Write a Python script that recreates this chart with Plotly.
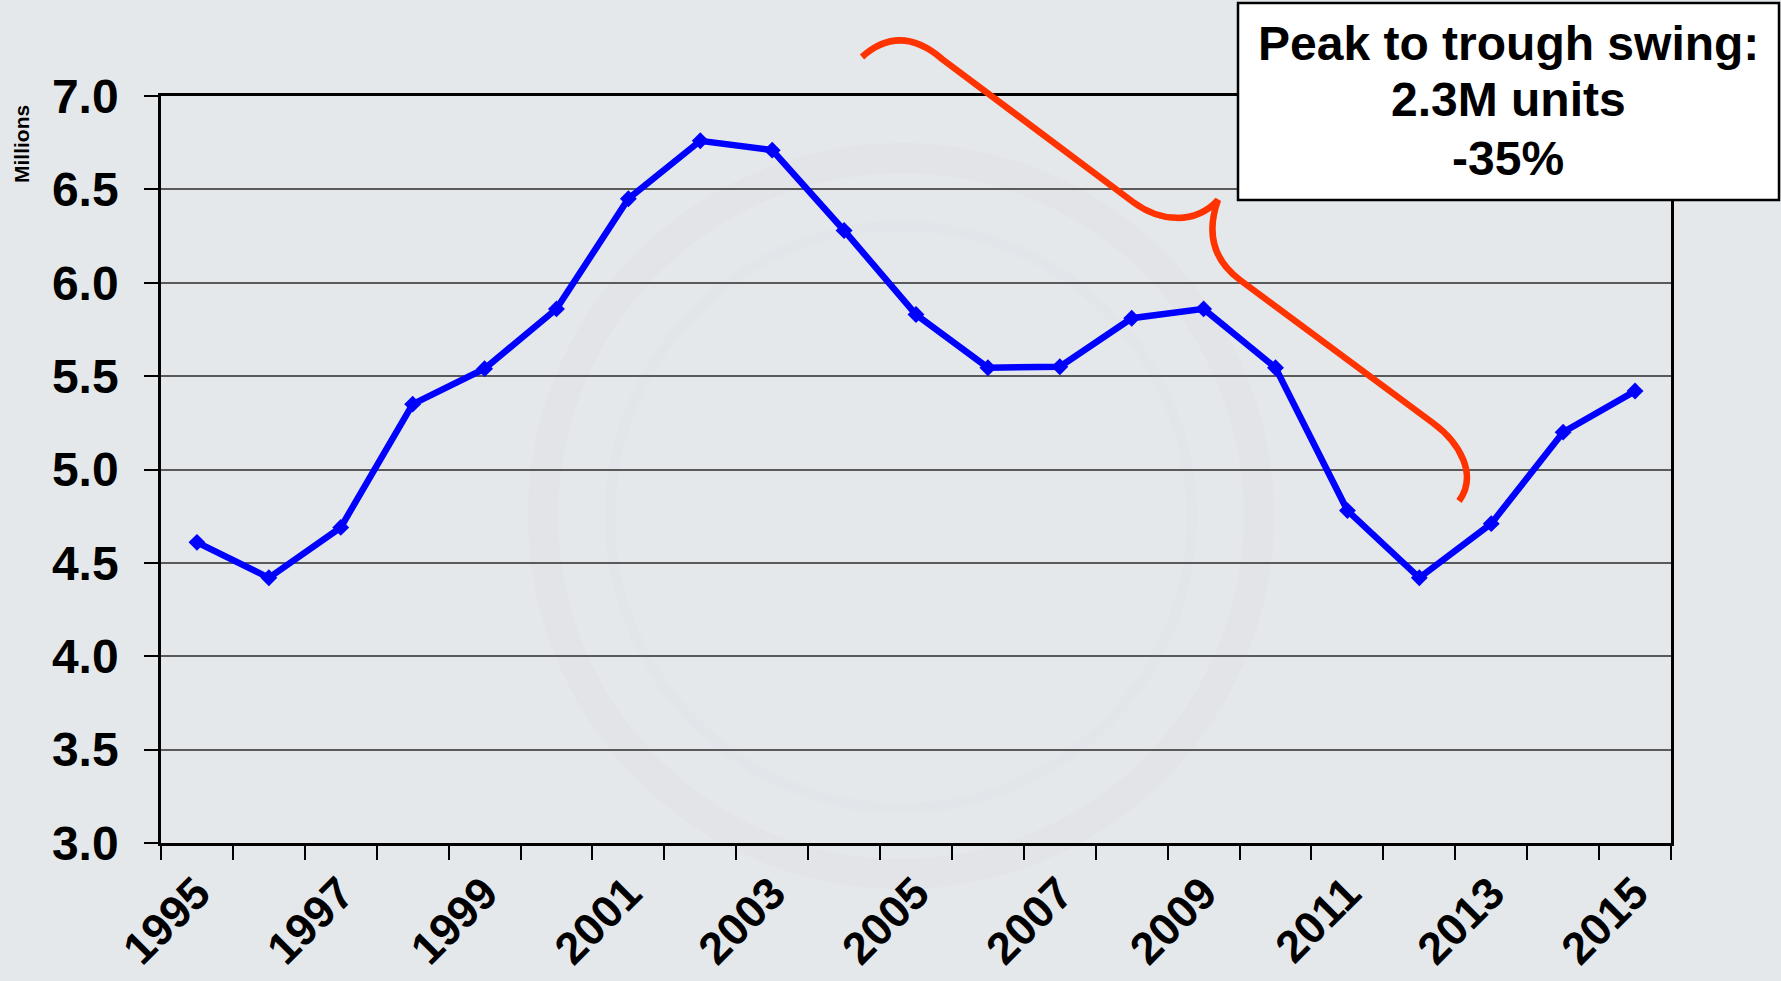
import plotly.graph_objects as go

# annual sales, millions of units
years = list(range(1995, 2016))
sales = [4.61, 4.42, 4.69, 5.35, 5.54, 5.86, 6.45, 6.76, 6.71, 6.28,
         5.83, 5.545, 5.55, 5.81, 5.86, 5.545, 4.78, 4.42, 4.71, 5.20, 5.42]
label_years = [y for y in years if y % 2 == 1]
label_text = [str(y) for y in label_years]
box_lines = ["Peak to trough swing:", "2.3M units", "-35%"]

W, H = 1781, 981
L, R, T, B = 161, 1671, 96, 843  # plot area in pixels


def px(x):
    return (x - L) / (R - L)


def py(y):
    return (B - y) / (B - T)


def path(cmds):
    out = []
    for c in cmds:
        if isinstance(c, str):
            out.append(c)
        else:
            out.append(f"{px(c[0]):.5f},{py(c[1]):.5f}")
    return " ".join(out)


bg = "#E4E8EB"
font = "Liberation Sans, Arial, sans-serif"

line = go.Scatter(x=years, y=sales, mode="lines+markers",
                  line=dict(color="#0000FF", width=6.5),
                  marker=dict(symbol="diamond", size=13, color="#0000FF"),
                  hoverinfo="x+y")

fig = go.Figure(data=[line])

# curly brace from the peak down to the trough
brace = path(["M", (862, 57), "Q", (900, 23), (942, 59), "L", (1133, 202),
              "C", (1160, 222), (1195, 225), (1218, 200),
              "Q", (1200, 250), (1240, 280), "L", (1433, 423),
              "C", (1460, 443), (1478, 475), (1459, 501)])

shapes = [
    # faint watermark ring
    dict(type="circle", xref="paper", yref="paper", layer="below",
         x0=px(543), x1=px(1259), y0=py(874), y1=py(158),
         line=dict(color="rgba(215,210,222,0.18)", width=30)),
    dict(type="circle", xref="paper", yref="paper", layer="below",
         x0=px(610), x1=px(1192), y0=py(808), y1=py(226),
         line=dict(color="rgba(215,210,222,0.12)", width=10)),
    dict(type="path", xref="paper", yref="paper", path=brace, layer="above",
         line=dict(color="#FF3300", width=6.5)),
    dict(type="rect", xref="paper", yref="paper", layer="above",
         x0=px(1238), x1=px(1779), y0=py(200), y1=py(3),
         fillcolor="white", line=dict(color="black", width=2.5)),
]

annotations = [
    dict(text="Millions", xref="paper", yref="paper", x=px(21), y=py(144),
         xanchor="center", yanchor="middle",
         textangle=-90, showarrow=False,
         font=dict(family=font, size=21, color="black", weight="bold")),
]
for txt, yc in zip(box_lines, [43, 100, 158]):
    annotations.append(dict(text=txt, xref="paper", yref="paper",
                            x=px(1508), y=py(yc), xanchor="center",
                            yanchor="middle", showarrow=False,
                            font=dict(family=font, size=48, color="black",
                                      weight="bold")))

fig.update_layout(
    width=W, height=H, autosize=False,
    margin=dict(l=L, r=W - R, t=T, b=H - B, pad=0),
    paper_bgcolor=bg, plot_bgcolor=bg,
    showlegend=False,
    shapes=shapes, annotations=annotations,
    font=dict(family=font, color="black"),
    xaxis=dict(range=[1994.5, 2015.5], tickvals=label_years, ticktext=label_text,
               tickangle=-45, ticks="", showgrid=False, zeroline=False,
               showline=True, linecolor="black", linewidth=2.5, mirror=True,
               ticklabelstandoff=3, automargin=False,
               tickfont=dict(family=font, size=45, color="black", weight="bold"),
               minor=dict(tick0=1994.5, dtick=1, ticks="outside", ticklen=14,
                          tickwidth=1.5, tickcolor="black", showgrid=False)),
    yaxis=dict(range=[3, 7], dtick=0.5, tickformat=".1f", ticks="outside",
               ticklen=14, tickwidth=1.5, tickcolor="black",
               showgrid=True, gridcolor="#5A5A5A", gridwidth=1.5, zeroline=False,
               showline=True, linecolor="black", linewidth=2.5, mirror=True,
               ticklabelstandoff=16, automargin=False,
               tickfont=dict(family=font, size=48, color="black", weight="bold")),
)

fig.write_html("out.html", config={"displayModeBar": False},
               post_script="document.body.style.margin='0';"
                           "document.body.style.overflow='hidden';")
